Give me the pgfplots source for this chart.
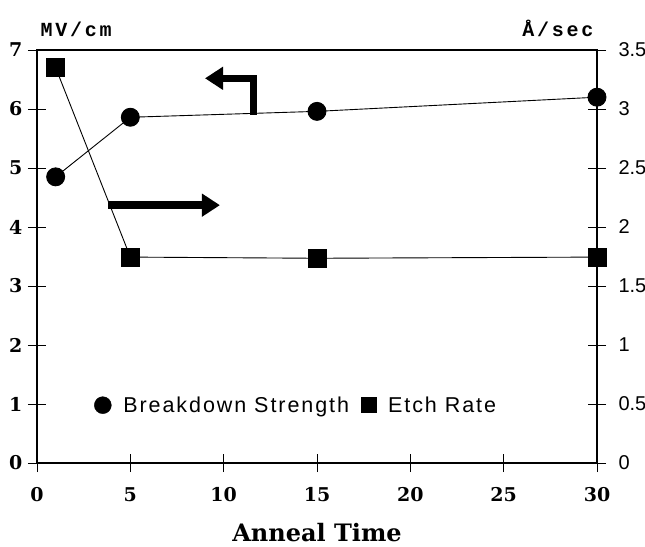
\documentclass[border=0pt]{standalone}
\usepackage{fontspec}
\setmainfont{DejaVu Serif}
\newfontfamily\legfont[LetterSpace=9]{Liberation Sans}
\newfontfamily\rsans{Liberation Sans}
\newfontfamily\unitfont[LetterSpace=14]{Liberation Mono}
\usepackage{pgfplots}
\pgfplotsset{compat=1.18}
\usetikzlibrary{arrows.meta}

\begin{document}
\begin{tikzpicture}
\begin{axis}[
    name=main,
    scale only axis,
    width=560pt, height=413pt,
    xmin=0, xmax=30, ymin=0, ymax=7,
    xtick={0,5,...,30}, ytick={0,1,...,7},
    xtick pos=bottom, ytick pos=left,
    tick align=center, major tick length=18pt,
    axis line style={line width=1.6pt},
    tick style={line width=0.9pt, black},
    /pgf/number format/assume math mode=true,
    ticklabel style={font=\bfseries\fontsize{19}{21}\selectfont},
    xticklabel style={yshift=-12pt},
    yticklabel style={xshift=-2pt},
    xlabel={Anneal Time},
    xlabel style={font=\bfseries\fontsize{24}{26}\selectfont, yshift=-14pt},
    legend style={at={(axis cs:2.9,0.98)}, anchor=west, draw=none, fill=none,
        font=\legfont\fontsize{21.5}{24}\selectfont, column sep=10pt},
    legend columns=2,
    legend cell align=left,
]
% Breakdown strength (MV/cm)
\addplot[black, line width=0.9pt, mark=*, mark size=9pt, forget plot] coordinates {
    (1,4.85) (5,5.86) (15,5.96) (30,6.2)
};
\addlegendimage{only marks, mark=*, mark size=8.5pt, black}
\addlegendentry{Breakdown Strength}
\addlegendimage{only marks, mark=square*, mark size=7.5pt, black}
\addlegendentry{Etch Rate}

% direction arrows
\draw[line width=7pt, line join=miter, -{Triangle[length=18pt,width=22pt]}]
    (axis cs:11.6,5.9) -- (axis cs:11.6,6.52) -- (axis cs:9.0,6.52);
\draw[line width=8pt, -{Triangle[length=18pt,width=22pt]}]
    (axis cs:3.8,4.37) -- (axis cs:9.8,4.37);
\end{axis}

\begin{axis}[
    scale only axis,
    width=560pt, height=413pt,
    xmin=0, xmax=30, ymin=0, ymax=3.5,
    axis x line=none, axis y line*=right,
    ytick={0,0.5,...,3.5},
    tick align=center, major tick length=18pt,
    axis line style={line width=1.6pt},
    tick style={line width=0.9pt, black},
    /pgf/number format/assume math mode=true,
    ticklabel style={font=\rsans\fontsize{20}{22}\selectfont},
    yticklabel style={xshift=9pt},
]
% Etch rate (A/sec)
\addplot[black, line width=0.9pt, mark=square*, mark size=9pt] coordinates {
    (1,3.35) (5,1.745) (15,1.735) (30,1.745)
};
\end{axis}

\node[anchor=base west, font=\unitfont\bfseries\fontsize{20}{22}\selectfont]
    at ([yshift=13pt]main.north west) {MV/cm};
\node[anchor=base east, font=\unitfont\bfseries\fontsize{20}{22}\selectfont]
    at ([yshift=13pt]main.north east) {Å/sec};

\pgfresetboundingbox
\path ([shift={(-37pt,-83pt)}]main.south west) rectangle ([shift={(48pt,50pt)}]main.north east);
\end{tikzpicture}
\end{document}
